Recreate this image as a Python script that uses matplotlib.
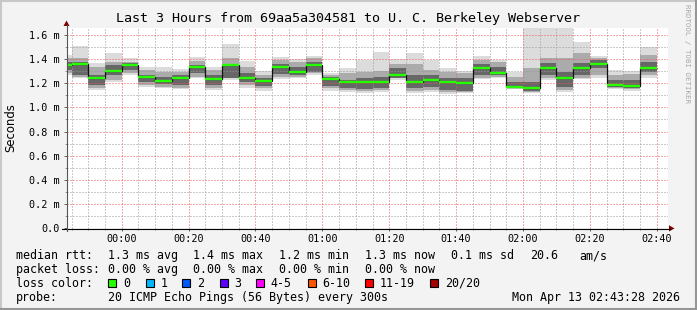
import numpy as np
import matplotlib
matplotlib.use("Agg")
import matplotlib.pyplot as plt
from matplotlib.patches import Polygon, Rectangle
from matplotlib.lines import Line2D

plt.rcParams['font.family'] = ['DejaVu Sans Mono']

W, H = 697, 310

# ---------------- data ----------------
# 5-minute RRD steps, end time in minutes after 00:00 (23:45 ... 02:40)
step_end = np.arange(-15, 161, 5)
t_start, t_end = -16.53, 163.47          # 23:43:28 .. 02:43:28

median = [1.349, 1.360, 1.245, 1.300, 1.349, 1.247, 1.217, 1.245, 1.333, 1.236,
          1.349, 1.245, 1.217, 1.333, 1.294, 1.352, 1.236, 1.212, 1.212, 1.212,
          1.267, 1.212, 1.225, 1.209, 1.201, 1.327, 1.283, 1.168, 1.162, 1.327,
          1.239, 1.327, 1.360, 1.184, 1.176, 1.327]
smoke_max = [1.432, 1.509, 1.369, 1.449, 1.405, 1.336, 1.336, 1.314, 1.418, 1.336,
             1.523, 1.385, 1.303, 1.416, 1.399, 1.424, 1.286, 1.322, 1.391, 1.454,
             1.396, 1.449, 1.391, 1.322, 1.300, 1.424, 1.391, 1.294, 1.750, 1.750,
             1.750, 1.542, 1.427, 1.308, 1.300, 1.501]
smoke_min = [1.267, 1.245, 1.143, 1.212, 1.267, 1.170, 1.157, 1.151, 1.239, 1.143,
             1.225, 1.162, 1.137, 1.234, 1.239, 1.267, 1.137, 1.129, 1.121, 1.129,
             1.225, 1.121, 1.129, 1.110, 1.121, 1.234, 1.239, 1.148, 1.121, 1.225,
             1.129, 1.234, 1.245, 1.151, 1.135, 1.245]
mid_hi = [1.405, 1.405, 1.336, 1.377, 1.377, 1.308, 1.294, 1.294, 1.382, 1.308,
          1.405, 1.336, 1.267, 1.391, 1.377, 1.405, 1.267, 1.281, 1.294, 1.300,
          1.355, 1.355, 1.308, 1.294, 1.281, 1.391, 1.371, 1.253, 1.322, 1.405,
          1.410, 1.446, 1.405, 1.267, 1.272, 1.432]
mid_lo = [1.281, 1.253, 1.157, 1.225, 1.281, 1.184, 1.170, 1.162, 1.253, 1.162,
          1.239, 1.184, 1.157, 1.253, 1.253, 1.281, 1.157, 1.143, 1.135, 1.143,
          1.239, 1.135, 1.143, 1.129, 1.129, 1.245, 1.253, 1.157, 1.129, 1.239,
          1.143, 1.245, 1.267, 1.162, 1.151, 1.267]
core_hi = [1.371, 1.377, 1.267, 1.349, 1.363, 1.267, 1.253, 1.267, 1.349, 1.267,
           1.355, 1.281, 1.239, 1.355, 1.336, 1.377, 1.253, 1.225, 1.239, 1.253,
           1.322, 1.267, 1.267, 1.239, 1.239, 1.355, 1.336, 1.212, 1.212, 1.363,
           1.294, 1.363, 1.391, 1.225, 1.225, 1.377]
core_lo = [1.308, 1.267, 1.184, 1.267, 1.308, 1.206, 1.190, 1.184, 1.281, 1.184,
           1.245, 1.212, 1.179, 1.272, 1.267, 1.294, 1.179, 1.157, 1.151, 1.162,
           1.245, 1.157, 1.170, 1.143, 1.135, 1.267, 1.267, 1.162, 1.135, 1.267,
           1.170, 1.267, 1.322, 1.170, 1.157, 1.294]

x_major = [0, 20, 40, 60, 80, 100, 120, 140, 160]
x_labels = ["00:00", "00:20", "00:40", "01:00", "01:20", "01:40", "02:00", "02:20", "02:40"]
y_major = [0.0, 0.2, 0.4, 0.6, 0.8, 1.0, 1.2, 1.4, 1.6]
y_labels = ["0.0", "0.2 m", "0.4 m", "0.6 m", "0.8 m", "1.0 m", "1.2 m", "1.4 m", "1.6 m"]

title = "Last 3 Hours from 69aa5a304581 to U. C. Berkeley Webserver"
rtt_stats = ["1.3 ms avg", "1.4 ms max", "1.2 ms min", "1.3 ms now", "0.1 ms sd", "20.6", "am/s"]
loss_stats = ["0.00 % avg", "0.00 % max", "0.00 % min", "0.00 % now"]
loss_labels = ["0", "1", "2", "3", "4-5", "6-10", "11-19", "20/20"]
loss_colors = ["#26ff00", "#00b8ff", "#0059ff", "#5e00ff", "#ff00ff", "#ff5500", "#ff0000", "#a10000"]
probe_text = "20 ICMP Echo Pings (56 Bytes) every 300s"
stamp = "Mon Apr 13 02:43:28 2026"

# ---------------- figure ----------------
BACK = "#f3f3f3"
fig = plt.figure(figsize=(W / 100, H / 100), dpi=100, facecolor=BACK)


def px(x, y):
    return (x / W, 1 - y / H)


L, R, T, B = 66.5, 668.3, 27.7, 228.3
ax = fig.add_axes([L / W, 1 - B / H, (R - L) / W, (B - T) / H])
ax.set_facecolor("white")
ax.set_xlim(t_start, t_end)
ax.set_ylim(0, 1.658)
for s in ax.spines.values():
    s.set_visible(False)

edges = np.concatenate([[step_end[0] - 5], step_end])
ax.stairs(smoke_max, edges, baseline=smoke_min, fill=True, facecolor="#dcdcdc", edgecolor="none", lw=0, zorder=1)
ax.stairs(mid_hi, edges, baseline=mid_lo, fill=True, facecolor="#ababab", edgecolor="none", lw=0, zorder=1.1)
ax.stairs(core_hi, edges, baseline=core_lo, fill=True, facecolor="#676767", edgecolor="none", lw=0, zorder=1.2)
ax.stairs(median, edges, baseline=None, color="#111111", lw=0.9, zorder=3)
ax.hlines(median, edges[:-1], edges[1:], color="#26ff00", lw=1.7, zorder=4)

# grid & ticks
ax.set_xticks(x_major)
ax.set_xticklabels(x_labels)
ax.set_xticks(np.arange(-15, 165, 5), minor=True)
ax.set_yticks(y_major)
ax.set_yticklabels(y_labels)
ax.set_yticks(np.arange(0.1, 1.66, 0.1), minor=True)
ax.set_axisbelow(False)
ax.grid(True, which="minor", color=(0.6, 0.6, 0.6, 0.45), lw=0.72, ls=(0, (1, 2)))
ax.grid(True, which="major", color=(0.92, 0.35, 0.35, 0.45), lw=0.72, ls=(0, (1, 2)))
ax.tick_params(axis="x", which="major", length=2, width=0.72, color="#666666", pad=1.8, labelsize=7.3)
ax.tick_params(axis="x", which="minor", length=1.4, width=0.72, color="#999999")
ax.tick_params(axis="y", which="major", length=2.2, width=0.72, color="#666666", pad=2.6, labelsize=7.3)
ax.tick_params(axis="y", which="minor", length=1.4, width=0.72, color="#999999")

# axis lines and arrows
fig.add_artist(Line2D([px(62, 0)[0], px(670, 0)[0]], [px(0, 228.5)[1]] * 2, color="black", lw=0.8))
fig.add_artist(Line2D([px(66.5, 0)[0]] * 2, [px(0, 231)[1], px(0, 25)[1]], color="#555555", lw=0.8))
fig.add_artist(Polygon([px(63.5, 26), px(69.5, 26), px(66.5, 20.5)], closed=True, color="#800000", lw=0))
fig.add_artist(Polygon([px(669, 225.3), px(669, 231.5), px(674.5, 228.4)], closed=True, color="#800000", lw=0))

# frame of the image
fig.add_artist(Line2D([0, 1], [px(0, 0.5)[1]] * 2, color="#c8c8c8", lw=1.5))
fig.add_artist(Line2D([px(0.7, 0)[0]] * 2, [0, 1], color="#c8c8c8", lw=1.5))
fig.add_artist(Line2D([0, 1], [px(0, 309.2)[1]] * 2, color="#969696", lw=1.5))
fig.add_artist(Line2D([px(696.2, 0)[0]] * 2, [0, 1], color="#969696", lw=1.5))

# texts
fig.text(*px(348, 22.2), title, ha="center", va="baseline", size=9.6, color="black")
fig.text(*px(11, 128), "Seconds", ha="center", va="center", rotation=90, size=8.4,
         family="DejaVu Sans")
fig.text(*px(687, 54), "RRDTOOL / TOBI OETIKER", ha="center", va="center", rotation=270,
         size=5.3, color="#a8a8a8")

LS = 8.4
rows = [255, 268.8, 282.6, 296.4]


def ltext(x, row, s, **kw):
    fig.text(*px(x, row + 4.3), s, ha=kw.pop("ha", "left"), va="baseline", size=LS, **kw)


ltext(16, rows[0], "median rtt:")
for x, s in zip([107.6, 193.3, 279, 365, 451, 530, 579], rtt_stats):
    ltext(x, rows[0], s)
ltext(16, rows[1], "packet loss:")
for x, s in zip([107.6, 193.3, 279, 365], loss_stats):
    ltext(x, rows[1], s)
ltext(16, rows[2], "loss color:")
box_x = [108.4, 145.8, 182.4, 219.6, 256.4, 307.6, 365.3, 430.2]
for bx, lab, col in zip(box_x, loss_labels, loss_colors):
    x0, y0 = px(bx, rows[2] + 4)
    fig.add_artist(Rectangle((x0, y0), 8 / W, 8 / H, facecolor=col, edgecolor="black", lw=0.8))
    ltext(bx + 14.5, rows[2], lab)
ltext(16, rows[3], "probe:")
ltext(107.6, rows[3], probe_text)
ltext(680, rows[3], stamp, ha="right")

fig.savefig("out.png", dpi=100, facecolor=BACK)
